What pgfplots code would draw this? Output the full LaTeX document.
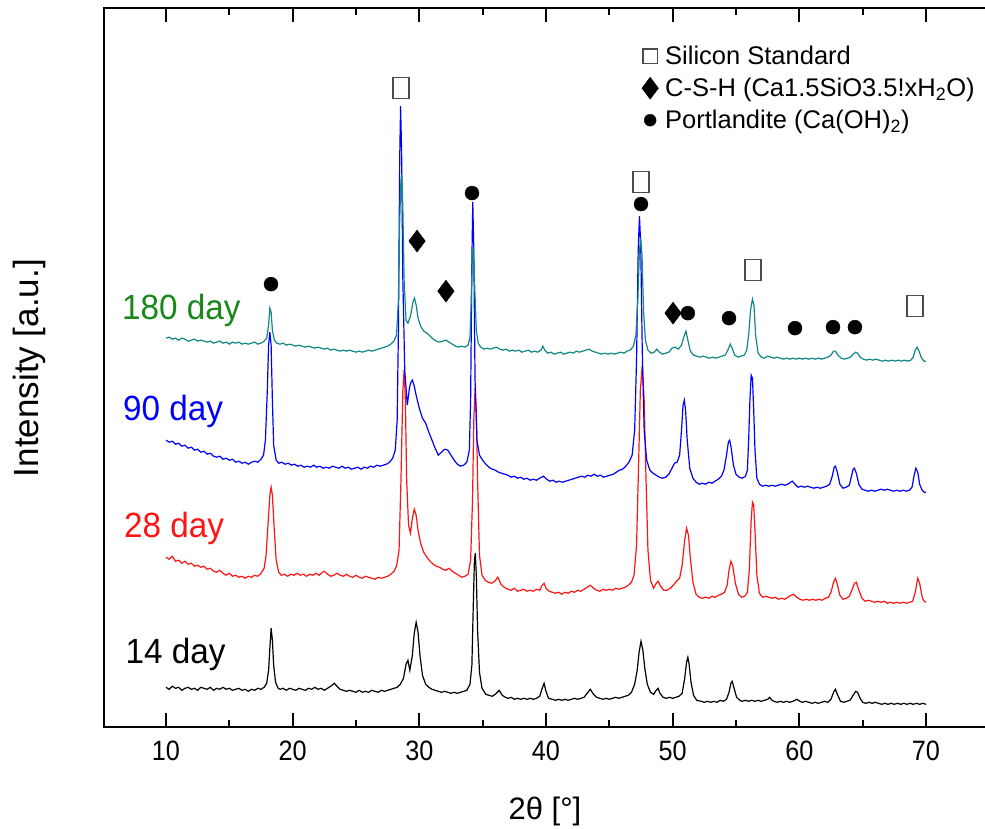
\documentclass[border=0pt]{standalone}
\usepackage{fontspec}
\setmainfont{Liberation Sans}
\usepackage{pgfplots}
\pgfplotsset{compat=1.18}
\definecolor{teal180}{RGB}{16,136,136}
\definecolor{green180}{RGB}{25,135,25}
\definecolor{red28}{RGB}{255,20,20}
\definecolor{blue90}{RGB}{0,0,255}
\newcommand{\daylabel}[1]{\scalebox{0.95}[1]{#1}}
\begin{document}
\begin{tikzpicture}
\begin{axis}[
  scale only axis, width=885pt, height=719pt,
  xmin=5.1, xmax=75, ymin=8, ymax=727,
  y filter/.expression={735-y},
  unbounded coords=jump,
  clip=false,
  ytick=\empty,
  xtick={10,20,...,70}, minor xtick={15,25,...,65},
  tickwidth=14pt, subtickwidth=7pt,
  tick style={black, line width=2pt},
  axis line style={line width=1.8pt},
  tick label style={font=\fontsize{28}{32}\selectfont, /pgf/number format/assume math mode=true},
  xticklabel={\scalebox{0.9}[1]{\pgfmathprintnumber{\tick}}},
  xticklabel style={yshift=-10pt},
  xlabel={2θ [°]},
  xlabel style={at={(axis cs:39.92,-76)}, anchor=center, font=\fontsize{31}{36}\selectfont},
  ylabel={Intensity [a.u.]},
  ylabel style={at={(axis cs:-0.81,367)}, anchor=center, rotate=0, font=\fontsize{35}{40}\selectfont},
  legend cell align=left,
  legend image code/.code={\path[draw=none,fill=none] (0pt,-6pt) rectangle (34pt,6pt); \draw[mark repeat=2,mark phase=2,#1] plot coordinates {(0pt,0pt) (21pt,0pt) (34pt,0pt)};},
  legend style={draw=none, fill=none, at={(axis cs:46.55,691)}, anchor=north west,
    font=\fontsize{25.5}{30}\selectfont, inner sep=0pt, row sep=8pt, nodes={inner sep=2pt}},
]
% tick marks, bottom and top, pointing inward (major 14, minor 7)
\addplot[black, line width=2pt, forget plot] coordinates {
(10,727) (10,713) (10,nan) (20,727) (20,713) (20,nan) (30,727) (30,713) (30,nan) (40,727) (40,713) (40,nan)
(50,727) (50,713) (50,nan) (60,727) (60,713) (60,nan) (70,727) (70,713) (70,nan)
(15,727) (15,720) (15,nan) (25,727) (25,720) (25,nan) (35,727) (35,720) (35,nan) (45,727) (45,720) (45,nan)
(55,727) (55,720) (55,nan) (65,727) (65,720) (65,nan)
(10,8) (10,22) (10,nan) (20,8) (20,22) (20,nan) (30,8) (30,22) (30,nan) (40,8) (40,22) (40,nan)
(50,8) (50,22) (50,nan) (60,8) (60,22) (60,nan) (70,8) (70,22) (70,nan)
(15,8) (15,15) (15,nan) (25,8) (25,15) (25,nan) (35,8) (35,15) (35,nan) (45,8) (45,15) (45,nan)
(55,8) (55,15) (55,nan) (65,8) (65,15)
};
% 14 day
\addplot[black, line width=1.2pt, forget plot] coordinates {
(10,687) (10.25,689) (10.5,686) (10.75,688) (11,687) (11.25,690) (11.5,688) (11.75,687) (12,689) (12.25,688) (12.5,690) (12.75,687) (13,688) (13.25,689) (13.5,687) (13.75,690) (14,688) (14.25,689) (14.5,687) (14.75,689) (15,688) (15.25,690) (15.5,689) (15.75,688) (16,690) (16.25,689) (16.5,691) (16.75,689) (17,690) (17.25,688) (17.5,689) (17.75,687) (17.95,683) (18.1,670) (18.2,648) (18.3,628) (18.4,640) (18.5,665) (18.65,682) (18.85,688) (19,689) (19.25,688) (19.5,690) (19.75,688) (20,689) (20.25,690) (20.5,688) (20.75,689) (21,690) (21.25,688) (21.5,689) (21.75,687) (22,689) (22.25,688) (22.5,690) (22.75,688) (23,686) (23.3,683) (23.5,686) (23.75,689) (24,690) (24.25,691) (24.5,690) (24.75,691) (25,692) (25.25,690) (25.5,692) (25.75,691) (26,692) (26.25,690) (26.5,691) (26.75,692) (27,690) (27.25,691) (27.5,690) (27.75,689) (28,688) (28.25,687) (28.5,684) (28.75,678) (28.95,664) (29.1,660) (29.25,670) (29.45,655) (29.6,633) (29.75,622) (29.9,632) (30.05,655) (30.25,675) (30.5,684) (30.75,687) (31,689) (31.25,690) (31.5,691) (31.75,692) (32,691) (32.25,692) (32.5,693) (32.75,692) (33,693) (33.25,692) (33.5,691) (33.75,690) (34,684) (34.15,665) (34.25,610) (34.35,560) (34.42,553) (34.5,575) (34.6,630) (34.75,672) (34.95,688) (35.25,694) (35.5,695) (35.75,696) (36,694) (36.3,690) (36.55,695) (36.8,697) (37,698) (37.25,697) (37.5,699) (37.75,698) (38,699) (38.25,698) (38.5,699) (38.75,698) (39,699) (39.25,698) (39.5,696) (39.7,688) (39.85,683) (40,691) (40.2,698) (40.5,699) (40.75,700) (41,699) (41.25,700) (41.5,699) (41.75,700) (42,699) (42.25,698) (42.5,699) (42.75,698) (43,697) (43.25,693) (43.5,689) (43.75,694) (44,697) (44.25,698) (44.5,699) (44.75,698) (45,699) (45.25,698) (45.5,697) (45.75,698) (46,697) (46.25,696) (46.5,695) (46.75,692) (47,684) (47.2,670) (47.35,652) (47.5,641) (47.65,650) (47.8,668) (48,684) (48.25,692) (48.5,694) (48.7,690) (48.85,688) (49,693) (49.25,697) (49.5,698) (49.75,697) (50,698) (50.25,697) (50.5,696) (50.75,693) (50.95,678) (51.1,662) (51.2,657) (51.3,664) (51.45,682) (51.65,695) (51.9,700) (52.25,701) (52.5,702) (52.75,701) (53,702) (53.25,701) (53.5,702) (53.75,700) (54,701) (54.25,699) (54.45,692) (54.6,683) (54.7,681) (54.85,688) (55.05,697) (55.3,700) (55.5,701) (55.75,700) (56,701) (56.25,700) (56.5,701) (56.75,700) (57,701) (57.25,700) (57.5,699) (57.65,697) (57.85,700) (58,701) (58.25,702) (58.5,701) (58.75,702) (59,701) (59.25,702) (59.5,701) (59.8,699) (60.05,701) (60.25,702) (60.5,701) (60.75,702) (61,703) (61.25,702) (61.5,703) (61.75,702) (62,701) (62.25,702) (62.5,699) (62.7,692) (62.85,689) (63,694) (63.25,701) (63.5,702) (63.75,701) (64,700) (64.2,696) (64.45,691) (64.6,692) (64.8,698) (65,702) (65.25,703) (65.5,702) (65.75,703) (66,702) (66.25,703) (66.5,704) (66.75,703) (67,704) (67.25,703) (67.5,704) (67.75,703) (68,704) (68.25,703) (68.5,704) (68.75,703) (69,704) (69.25,703) (69.5,704) (69.75,703) (70,704)
};
% 28 day
\addplot[red28, line width=1.2pt, forget plot] coordinates {
(10,557) (10.25,559) (10.5,556) (10.75,561) (11,560) (11.25,563) (11.5,561) (11.75,564) (12,563) (12.25,566) (12.5,565) (12.75,567) (13,566) (13.25,569) (13.5,568) (13.75,571) (14,572) (14.25,570) (14.5,573) (14.75,575) (15,573) (15.25,576) (15.5,575) (15.75,577) (16,576) (16.25,578) (16.5,576) (16.75,577) (17,575) (17.25,576) (17.5,573) (17.75,568) (17.9,555) (18.05,525) (18.2,495) (18.3,487) (18.4,495) (18.55,530) (18.7,560) (18.9,572) (19.1,575) (19.35,574) (19.6,576) (19.85,574) (20.1,575) (20.35,573) (20.6,575) (20.85,574) (21.1,576) (21.35,574) (21.6,575) (21.85,573) (22.1,575) (22.35,572) (22.5,571) (22.75,574) (23,576) (23.25,575) (23.5,573) (23.75,575) (24,576) (24.25,574) (24.5,576) (24.75,577) (25,575) (25.25,577) (25.5,578) (25.75,576) (26,577) (26.25,578) (26.5,579) (26.75,577) (27,578) (27.25,577) (27.5,576) (27.75,574) (28,571) (28.2,566) (28.4,550) (28.55,480) (28.7,390) (28.8,370) (28.9,400) (29.0,480) (29.15,525) (29.3,533) (29.45,518) (29.6,509) (29.75,515) (29.9,530) (30.1,543) (30.35,552) (30.6,557) (30.85,561) (31.1,564) (31.35,566) (31.6,567) (31.85,569) (32.1,570) (32.35,568) (32.6,571) (32.85,573) (33.1,575) (33.35,577) (33.6,576) (33.85,574) (34.05,560) (34.2,500) (34.3,420) (34.4,388) (34.5,410) (34.6,480) (34.75,555) (34.95,575) (35.2,580) (35.45,582) (35.7,583) (35.95,581) (36.2,577) (36.45,584) (36.7,587) (37,589) (37.25,590) (37.5,588) (37.75,591) (38,590) (38.25,589) (38.5,591) (38.75,590) (39,591) (39.25,589) (39.5,590) (39.7,585) (39.85,583) (40,588) (40.25,591) (40.5,592) (40.75,593) (41,592) (41.25,594) (41.5,592) (41.75,593) (42,591) (42.25,592) (42.5,590) (42.75,591) (43,589) (43.25,587) (43.5,585) (43.75,588) (44,590) (44.25,591) (44.5,589) (44.75,590) (45,589) (45.25,590) (45.5,588) (45.75,589) (46,588) (46.25,587) (46.5,585) (46.75,582) (46.95,575) (47.15,545) (47.3,470) (47.45,390) (47.6,365) (47.75,400) (47.9,480) (48.05,550) (48.25,580) (48.5,588) (48.7,583) (48.85,581) (49.05,586) (49.3,590) (49.55,590) (49.8,588) (50.05,585) (50.3,581) (50.55,578) (50.75,565) (50.95,540) (51.1,528) (51.25,535) (51.4,558) (51.6,582) (51.85,594) (52.1,597) (52.35,598) (52.6,597) (52.85,598) (53.1,596) (53.35,597) (53.6,595) (53.85,594) (54.1,592) (54.3,585) (54.45,570) (54.6,561) (54.75,566) (54.95,583) (55.2,594) (55.45,597) (55.7,596) (55.9,592) (56.05,570) (56.2,520) (56.3,502) (56.4,505) (56.5,530) (56.65,575) (56.85,593) (57.1,597) (57.35,596) (57.6,597) (57.85,598) (58.1,597) (58.35,599) (58.6,598) (58.85,599) (59.1,597) (59.35,595) (59.55,594) (59.8,597) (60.05,599) (60.3,600) (60.55,599) (60.8,600) (61.05,599) (61.3,600) (61.55,599) (61.8,600) (62.05,598) (62.3,597) (62.5,592) (62.7,582) (62.85,578) (63,584) (63.2,595) (63.45,599) (63.7,598) (63.95,596) (64.15,590) (64.35,583) (64.5,582) (64.7,590) (64.95,598) (65.2,601) (65.45,600) (65.7,601) (65.95,602) (66.2,601) (66.45,602) (66.7,601) (66.95,603) (67.2,602) (67.45,603) (67.7,602) (67.95,603) (68.2,602) (68.45,603) (68.7,602) (68.95,601) (69.15,592) (69.35,578) (69.5,583) (69.7,597) (69.85,601) (70,602)
};
% 90 day
\addplot[blue90, line width=1.2pt, forget plot] coordinates {
(10,440) (10.25,442) (10.5,441) (10.75,444) (11,443) (11.25,446) (11.5,445) (11.75,448) (12,447) (12.25,450) (12.5,449) (12.75,452) (13,451) (13.25,454) (13.5,453) (13.75,456) (14,457) (14.25,456) (14.5,459) (14.75,458) (15,460) (15.25,459) (15.5,462) (15.75,461) (16,463) (16.25,462) (16.5,464) (16.75,462) (17,461) (17.25,462) (17.5,459) (17.7,455) (17.85,440) (18.0,390) (18.1,345) (18.2,332) (18.3,345) (18.4,400) (18.5,445) (18.7,460) (18.9,463) (19.15,462) (19.4,464) (19.65,463) (19.9,465) (20.15,464) (20.4,466) (20.65,465) (20.9,467) (21.15,466) (21.4,467) (21.65,465) (21.9,467) (22.15,466) (22.4,468) (22.65,467) (22.9,468) (23.15,466) (23.4,467) (23.65,468) (23.9,466) (24.15,468) (24.4,467) (24.65,469) (24.9,468) (25.15,467) (25.4,469) (25.65,467) (25.9,468) (26.15,466) (26.4,467) (26.65,465) (26.9,466) (27.15,465) (27.4,464) (27.65,462) (27.9,458) (28.1,450) (28.25,420) (28.35,330) (28.45,160) (28.52,106) (28.6,150) (28.7,280) (28.85,370) (29.05,405) (29.2,390) (29.3,383) (29.45,380) (29.6,386) (29.8,398) (30.0,408) (30.25,418) (30.5,423) (30.75,432) (31.0,440) (31.25,448) (31.5,455) (31.75,452) (32.0,449) (32.25,450) (32.5,455) (32.75,460) (33.0,464) (33.25,466) (33.5,465) (33.75,462) (33.95,450) (34.05,400) (34.15,260) (34.22,202) (34.3,250) (34.4,380) (34.55,440) (34.75,455) (35.0,460) (35.25,464) (35.5,467) (35.75,469) (36.0,470) (36.25,472) (36.5,473) (36.75,474) (37,475) (37.25,477) (37.5,476) (37.75,478) (38,477) (38.25,479) (38.5,478) (38.75,480) (39,479) (39.25,480) (39.5,478) (39.8,476) (40.05,479) (40.3,481) (40.55,480) (40.8,482) (41.05,481) (41.3,482) (41.55,481) (41.8,480) (42.05,479) (42.3,478) (42.55,477) (42.8,476) (43.05,477) (43.3,475) (43.55,476) (43.8,474) (44.05,476) (44.3,475) (44.55,477) (44.8,476) (45.05,475) (45.3,474) (45.55,472) (45.8,470) (46.05,469) (46.3,466) (46.55,462) (46.8,455) (47.0,430) (47.15,360) (47.28,250) (47.38,216) (47.48,245) (47.6,350) (47.75,430) (47.95,460) (48.2,470) (48.45,473) (48.7,475) (48.95,477) (49.2,478) (49.45,477) (49.7,474) (49.95,468) (50.15,463) (50.35,462) (50.55,455) (50.7,430) (50.82,405) (50.92,400) (51.02,410) (51.15,440) (51.35,468) (51.6,478) (51.85,482) (52.1,484) (52.35,483) (52.6,484) (52.85,482) (53.1,483) (53.35,481) (53.6,479) (53.85,476) (54.05,470) (54.25,455) (54.4,442) (54.5,440) (54.6,446) (54.8,465) (55.0,474) (55.25,477) (55.5,478) (55.75,476) (55.9,470) (56.0,440) (56.1,400) (56.2,375) (56.3,378) (56.4,410) (56.5,450) (56.65,478) (56.85,484) (57.1,486) (57.35,485) (57.6,486) (57.85,485) (58.1,486) (58.35,485) (58.6,484) (58.85,485) (59.1,484) (59.3,482) (59.45,481) (59.65,484) (59.9,487) (60.15,486) (60.4,487) (60.65,486) (60.9,487) (61.15,488) (61.4,487) (61.65,488) (61.9,487) (62.15,486) (62.4,484) (62.6,476) (62.75,467) (62.85,466) (63.0,472) (63.2,484) (63.45,488) (63.7,487) (63.95,485) (64.1,477) (64.25,469) (64.35,468) (64.5,473) (64.7,484) (64.95,489) (65.2,490) (65.45,491) (65.7,490) (65.95,491) (66.2,490) (66.45,489) (66.7,490) (66.95,489) (67.2,490) (67.45,491) (67.7,490) (67.95,491) (68.2,490) (68.45,491) (68.7,490) (68.9,487) (69.05,476) (69.2,468) (69.35,472) (69.5,484) (69.7,490) (69.85,492) (70,492)
};
% 180 day
\addplot[teal180, line width=1.2pt, forget plot] coordinates {
(10,338) (10.25,337) (10.5,339) (10.75,338) (11,340) (11.25,338) (11.5,339) (11.75,341) (12,340) (12.25,339) (12.5,341) (12.75,340) (13,341) (13.25,342) (13.5,341) (13.75,343) (14,342) (14.25,341) (14.5,343) (14.75,342) (15,344) (15.25,342) (15.5,343) (15.75,342) (16,344) (16.25,343) (16.5,344) (16.75,343) (17,342) (17.25,344) (17.5,343) (17.75,341) (17.95,338) (18.1,325) (18.2,308) (18.3,312) (18.4,330) (18.55,340) (18.75,343) (19,344) (19.25,343) (19.5,345) (19.75,344) (20,345) (20.25,346) (20.5,345) (20.75,346) (21,347) (21.25,346) (21.5,347) (21.75,348) (22,347) (22.25,348) (22.5,349) (22.75,348) (23,350) (23.25,349) (23.5,350) (23.75,351) (24,350) (24.25,351) (24.5,350) (24.75,351) (25,352) (25.25,351) (25.5,352) (25.75,351) (26,350) (26.25,351) (26.5,350) (26.75,349) (27,348) (27.25,347) (27.5,346) (27.75,344) (28,341) (28.2,335) (28.35,300) (28.45,220) (28.55,180) (28.62,174) (28.7,210) (28.8,280) (28.95,320) (29.1,323) (29.3,316) (29.5,302) (29.62,298) (29.75,305) (29.9,318) (30.1,326) (30.35,331) (30.6,333) (30.85,336) (31.1,339) (31.35,341) (31.6,342) (31.85,341) (32.1,340) (32.35,342) (32.6,344) (32.85,346) (33.1,347) (33.35,346) (33.6,347) (33.85,345) (34.0,337) (34.1,300) (34.2,250) (34.28,248) (34.38,290) (34.5,330) (34.65,343) (34.85,347) (35.1,349) (35.35,348) (35.6,349) (35.85,348) (36.1,347) (36.35,349) (36.6,350) (36.85,349) (37.1,351) (37.35,350) (37.6,351) (37.85,350) (38.1,352) (38.35,351) (38.6,350) (38.85,352) (39.1,351) (39.35,352) (39.6,350) (39.75,346) (39.9,350) (40.15,353) (40.4,352) (40.65,354) (40.9,353) (41.15,352) (41.4,354) (41.65,353) (41.9,352) (42.15,353) (42.4,351) (42.65,352) (42.9,351) (43.15,350) (43.4,349) (43.65,351) (43.9,352) (44.15,353) (44.4,354) (44.65,353) (44.9,354) (45.15,353) (45.4,354) (45.65,353) (45.9,352) (46.15,353) (46.4,351) (46.65,350) (46.9,346) (47.1,335) (47.25,300) (47.38,250) (47.48,238) (47.58,255) (47.7,310) (47.85,340) (48.05,350) (48.3,353) (48.55,352) (48.75,349) (48.95,352) (49.2,354) (49.45,353) (49.7,352) (49.95,348) (50.2,347) (50.45,349) (50.7,345) (50.9,336) (51.05,331) (51.2,340) (51.4,351) (51.65,355) (51.9,356) (52.15,357) (52.4,356) (52.65,357) (52.9,358) (53.15,357) (53.4,358) (53.65,357) (53.9,356) (54.15,355) (54.35,350) (54.55,344) (54.7,348) (54.9,355) (55.15,357) (55.4,356) (55.65,355) (55.85,350) (56.0,335) (56.15,310) (56.3,299) (56.42,305) (56.55,335) (56.75,353) (57.0,357) (57.25,358) (57.5,356) (57.75,357) (58.0,358) (58.25,357) (58.5,358) (58.75,359) (59.0,358) (59.25,359) (59.5,358) (59.75,359) (60.0,358) (60.25,359) (60.5,358) (60.75,359) (61.0,358) (61.25,359) (61.5,358) (61.75,359) (62.0,358) (62.25,357) (62.5,355) (62.7,351) (62.85,351) (63.05,355) (63.3,358) (63.55,359) (63.8,358) (64.05,357) (64.25,354) (64.45,352) (64.6,353) (64.8,357) (65.05,359) (65.3,360) (65.55,359) (65.8,360) (66.05,359) (66.3,360) (66.55,361) (66.8,360) (67.05,361) (67.3,360) (67.55,361) (67.8,360) (68.05,361) (68.3,360) (68.55,361) (68.8,360) (69.0,357) (69.15,350) (69.3,347) (69.45,351) (69.65,358) (69.85,361) (70,361)
};
% phase markers
\addplot[only marks, mark=square, mark size=8pt,
  mark options={draw=black!70, line width=1.4pt, yscale=1.3, fill=none},
  legend image post style={mark options={draw=black!70, line width=1.4pt, fill=none, scale=0.9}}]
  coordinates {(28.55,88) (47.5,182) (56.34,270) (69.13,306)};
\addlegendentry{Silicon Standard}
\addplot[only marks, mark=diamond*, mark size=11pt, mark options={fill=black, draw=black}]
  coordinates {(29.82,241) (32.1,291) (50.03,313)};
\addlegendentry{C-S-H (Ca1.5SiO3.5!xH\textsubscript{2}O)}
\addplot[only marks, mark=*, mark size=7pt, mark options={fill=black, draw=black},
  legend image post style={mark options={fill=black, draw=black, scale=0.85}}]
  coordinates {(18.29,284) (34.16,193) (47.5,204) (51.2,313) (54.45,318) (59.66,328) (62.66,327) (64.39,327)};
\addlegendentry{Portlandite (Ca(OH)\textsubscript{2})}
% series labels
\node[anchor=base west, inner sep=0pt, text=green180, font=\fontsize{35}{40}\selectfont] at (axis cs:6.53,416) {\daylabel{180 day}};
\node[anchor=base west, inner sep=0pt, text=blue90, font=\fontsize{35}{40}\selectfont] at (axis cs:6.6,315) {\daylabel{90 day}};
\node[anchor=base west, inner sep=0pt, text=red28, font=\fontsize{35}{40}\selectfont] at (axis cs:6.68,198) {\daylabel{28 day}};
\node[anchor=base west, inner sep=0pt, text=black, font=\fontsize{35}{40}\selectfont] at (axis cs:6.8,72) {\daylabel{14 day}};
% page extent
\coordinate (bbA) at (axis cs:-3.105,-93);
\coordinate (bbB) at (axis cs:74.66,735);
\end{axis}
\pgfresetboundingbox
\path (bbA) rectangle (bbB);
\end{tikzpicture}
\end{document}
